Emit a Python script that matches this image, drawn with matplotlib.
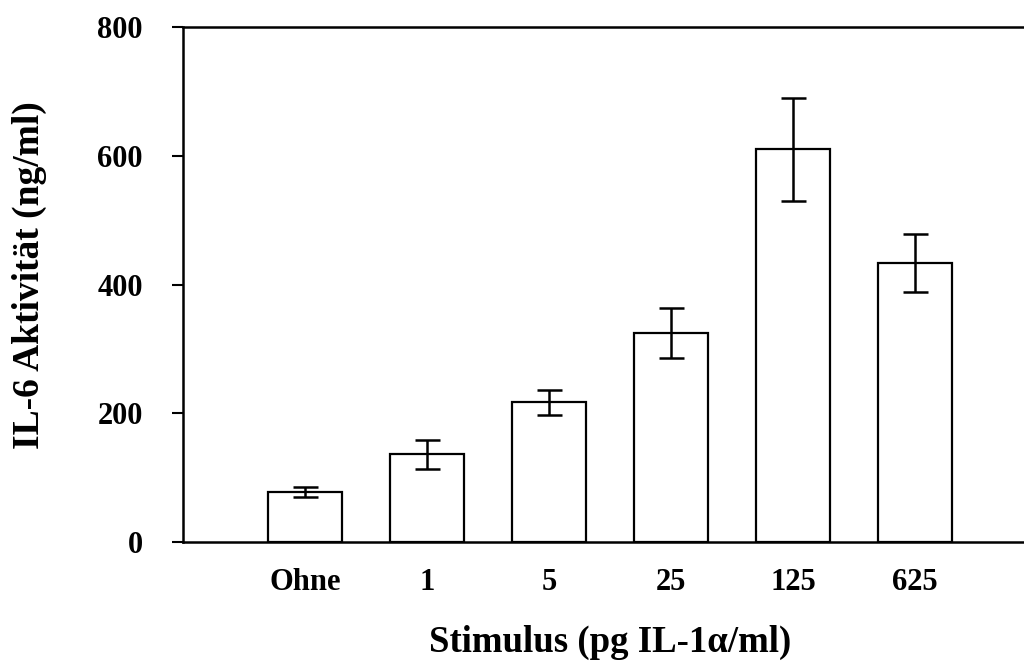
import matplotlib
matplotlib.use("Agg")
import matplotlib.pyplot as plt
import numpy as np

categories = ["Ohne", "1", "5", "25", "125", "625"]
values = [78, 136, 217, 325, 610, 433]
errors = [8, 22, 19, 39, 80, 45]
yticks = [0, 200, 400, 600, 800]

plt.rcParams['font.family'] = ['Liberation Serif', 'DejaVu Serif']
plt.rcParams['font.weight'] = 'bold'

W, H = 1024, 662
fig = plt.figure(figsize=(W / 100, H / 100), dpi=100)
left_px, right_px, top_px, bottom_px = 183, 1037, 27, 542
ax_w = right_px - left_px
ax = fig.add_axes([left_px / W, 1 - bottom_px / H,
                   ax_w / W, (bottom_px - top_px) / H])

x = np.arange(len(categories))
ax.bar(x, values, width=0.6, color='white', edgecolor='black', linewidth=1.6,
       yerr=errors, capsize=9,
       error_kw=dict(elinewidth=1.8, capthick=1.8, ecolor='black'))

ax.set_xlim(-1, 6)
ax.set_ylim(0, 800)
ax.set_yticks(yticks)
ax.set_yticklabels([str(v) for v in yticks], fontsize=22, fontweight='bold')
ax.set_xticks(x)
ax.set_xticklabels(categories, fontsize=22, fontweight='bold')

ax.tick_params(axis='y', direction='out', length=8, width=1.5, pad=21)
ax.tick_params(axis='x', length=0, pad=19)

for s in ['left', 'top', 'bottom']:
    ax.spines[s].set_linewidth(1.8)
ax.spines['right'].set_visible(False)

ax.set_ylabel("IL-6 Aktivität (ng/ml)", fontsize=27, fontweight='bold', va='center')
ax.yaxis.set_label_coords((29 - left_px) / ax_w, 0.518)
ax.set_xlabel("Stimulus (pg IL-1α/ml)", fontsize=26.5, fontweight='bold', labelpad=20)

fig.savefig("out.png", dpi=100)
